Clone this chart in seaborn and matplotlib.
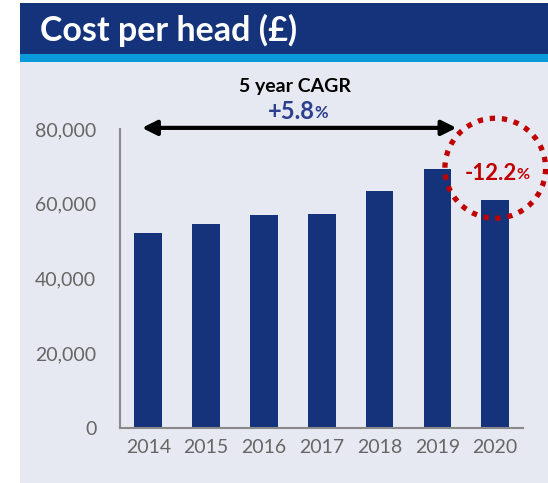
import matplotlib
matplotlib.use("Agg")
import matplotlib.pyplot as plt
from matplotlib.patches import Rectangle, Ellipse
from matplotlib.ticker import FuncFormatter
import seaborn as sns

# données
years = ["2014", "2015", "2016", "2017", "2018", "2019", "2020"]
cost_per_head = [52300, 54700, 57000, 57200, 63400, 69300, 60900]
yticks = [0, 20000, 40000, 60000, 80000]
title = "Cost per head (£)"
cagr_label = "5 year CAGR"
cagr_value = "+5.8"
drop_value = "-12.2"

navy = "#14337A"
cyan = "#0A9AD9"
panel = "#E6E9F1"
red = "#C00000"
grey = "#666666"

sns.set_style("white")
plt.rcParams["font.family"] = ["Lato", "DejaVu Sans"]

W, H = 548, 483
fig = plt.figure(figsize=(W / 100, H / 100), dpi=100)

# bandeau du titre + fond du panneau
fig.patches.append(Rectangle((20 / W, 0), 1 - 20 / W, 1 - 62 / H, transform=fig.transFigure,
                             facecolor=panel, edgecolor="none", zorder=-2))
fig.patches.append(Rectangle((20 / W, 1 - 62 / H), 1 - 20 / W, 8 / H, transform=fig.transFigure,
                             facecolor=cyan, edgecolor="none", zorder=-2))
fig.patches.append(Rectangle((20 / W, 1 - 54 / H), 1 - 20 / W, 51 / H, transform=fig.transFigure,
                             facecolor=navy, edgecolor="none", zorder=-2))
fig.text(40 / W, 1 - 30 / H, title, color="white", fontsize=24.5, fontweight="bold",
         va="center", ha="left")

ax = fig.add_axes([120 / W, 55 / H, 403 / W, 299 / H])
ax.patch.set_alpha(0)
sns.barplot(x=years, y=cost_per_head, color=navy, width=0.48, saturation=1,
            linewidth=0, ax=ax)
ax.set_xlim(-0.49, 6.48)
ax.set_ylim(0, 80000)
ax.set_yticks(yticks)
ax.yaxis.set_major_formatter(FuncFormatter(lambda v, p: f"{int(v):,}"))
for s in ["top", "right"]:
    ax.spines[s].set_visible(False)
for s in ["left", "bottom"]:
    ax.spines[s].set_color("#8A8A8A")
    ax.spines[s].set_linewidth(1.5)
ax.tick_params(axis="y", length=7, width=1.2, color="#8A8A8A", pad=10,
               labelsize=14, labelcolor=grey)
ax.tick_params(axis="x", length=0, pad=8, labelsize=14, labelcolor=grey)
ax.set_xlabel("")
ax.set_ylabel("")

# flèche CAGR
ax.annotate("", xy=(5.33, 80300), xytext=(-0.11, 80300),
            arrowprops=dict(arrowstyle="<|-|>", color="black", lw=3,
                            mutation_scale=22, shrinkA=0, shrinkB=0),
            annotation_clip=False)
ax.text(2.53, 91400, cagr_label, ha="center", va="center", fontsize=14,
        fontweight="bold", color="black", clip_on=False)
ax.text(2.87, 84800, cagr_value, ha="right", va="center", fontsize=17,
        fontweight="bold", color="#2E3F8F", clip_on=False)
ax.text(2.87, 84300, "%", ha="left", va="center", fontsize=12,
        fontweight="bold", color="#2E3F8F", clip_on=False)

# cercle pointillé rouge
ell = Ellipse((6.0, 69500), width=101 / 58, height=100 / 299 * 80000,
              fill=False, edgecolor=red, linewidth=3.8, linestyle=(0, (1, 1.3)),
              clip_on=False, zorder=5)
ax.add_patch(ell)
ax.text(6.37, 68100, drop_value, ha="right", va="center", fontsize=16,
        fontweight="bold", color=red, clip_on=False, zorder=6)
ax.text(6.37, 67600, "%", ha="left", va="center", fontsize=11.5,
        fontweight="bold", color=red, clip_on=False, zorder=6)

fig.savefig("out.png", dpi=100)
